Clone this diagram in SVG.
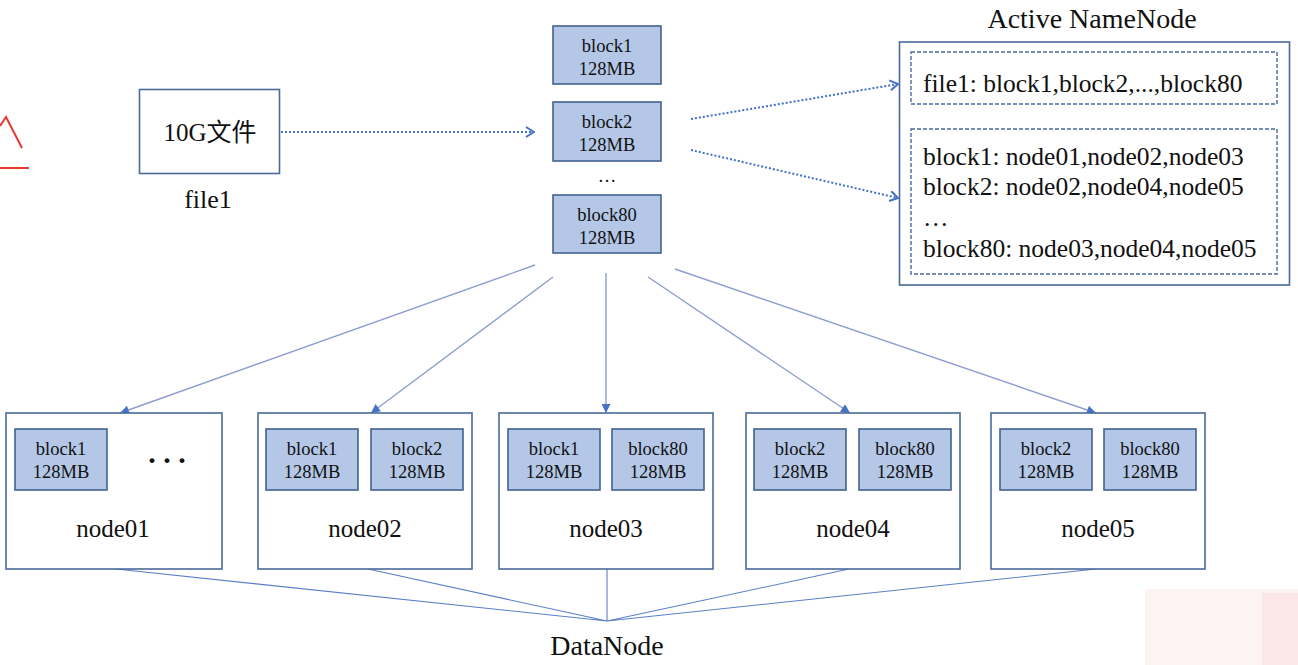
<svg xmlns="http://www.w3.org/2000/svg" width="1298" height="665" viewBox="0 0 1298 665">
<defs>
<style>
text{font-family:"Liberation Serif","Times New Roman",Times,"DejaVu Serif",serif;fill:#111;}
.cjk{font-family:"Liberation Serif","Times New Roman","Noto Sans CJK SC",serif;}
.box{fill:#fff;stroke:#4a6a9c;stroke-width:1.6;}
.blk{fill:#b4c7e7;stroke:#41638f;stroke-width:1.6;}
.dash{fill:none;stroke:#4a6a9c;stroke-width:1.4;stroke-dasharray:4 2;}
.bt{font-size:18.5px;text-anchor:middle;}
.lt{font-size:25.5px;}
.big{font-size:28px;text-anchor:middle;}
.lbl{font-size:25px;text-anchor:middle;}
.dot{fill:none;stroke:#4472c4;stroke-width:2;stroke-dasharray:2 2;}
.sol{fill:none;stroke:#8e9dd0;stroke-width:1.4;}
.bot{fill:none;stroke:#5b7fc8;stroke-width:1.1;}
</style>
<marker id="chev" viewBox="0 0 10 12" refX="9" refY="6" markerWidth="10" markerHeight="12" markerUnits="userSpaceOnUse" orient="auto">
<path d="M1,1 L9,6 L1,11" fill="none" stroke="#4472c4" stroke-width="2"/>
</marker>
<marker id="tri" viewBox="0 0 10 10" refX="10" refY="5" markerWidth="10" markerHeight="9" markerUnits="userSpaceOnUse" orient="auto">
<path d="M0,0 L10,5 L0,10 Z" fill="#4472c4"/>
</marker>
</defs>
<rect width="1298" height="665" fill="#fff"/>
<rect x="1145" y="589" width="153" height="76" fill="#fdf3f3"/>
<rect x="1262" y="593" width="36" height="72" fill="#fbe7e7"/>
<path d="M0,126 L6,117 L22,148" fill="none" stroke="#e53a2f" stroke-width="2"/>
<path d="M0,168 L29,168" fill="none" stroke="#e53a2f" stroke-width="2"/>

<g id="connectors">
<path class="dot" d="M281,132 L534,132" marker-end="url(#chev)"/>
<path class="dot" d="M691,119 L898,84" marker-end="url(#chev)"/>
<path class="dot" d="M691,150 L898,198" marker-end="url(#chev)"/>
<path class="sol" d="M535,265 L120,413" marker-end="url(#tri)"/>
<path class="sol" d="M553,277 L371,413" marker-end="url(#tri)"/>
<path class="sol" d="M606,273 L606,413" marker-end="url(#tri)"/>
<path class="sol" d="M648,277 L850,413" marker-end="url(#tri)"/>
<path class="sol" d="M675,269 L1096,413" marker-end="url(#tri)"/>
<path class="bot" d="M116,569 L607,621 M368,569 L607,621 M607,569 L607,621 M849,569 L607,621 M1096,569 L607,621"/>
</g>

<g id="file1">
<rect class="box" x="139.5" y="89.5" width="140" height="84"/>
<text class="lbl cjk" x="210" y="141">10G文件</text>
<text x="208" y="208" font-size="26" text-anchor="middle">file1</text>
</g>

<g id="block1">
<rect class="blk" x="553" y="26" width="108" height="58"/>
<text class="bt" x="607" y="52">block1</text>
<text class="bt" x="607" y="75">128MB</text>
</g>
<g id="block2">
<rect class="blk" x="553" y="102" width="108" height="59"/>
<text class="bt" x="607" y="128">block2</text>
<text class="bt" x="607" y="151">128MB</text>
</g>
<text class="bt" x="607" y="182">…</text>
<g id="block80">
<rect class="blk" x="553" y="195" width="108" height="58"/>
<text class="bt" x="607" y="221">block80</text>
<text class="bt" x="607" y="244">128MB</text>
</g>

<g id="namenode">
<text class="big" x="1092" y="28">Active NameNode</text>
<rect class="box" x="899.5" y="42" width="390" height="243"/>
<rect class="dash" x="911" y="52" width="366" height="52"/>
<text class="lt" x="923" y="92">file1: block1,block2,...,block80</text>
<rect class="dash" x="911" y="129" width="366" height="145"/>
<text class="lt" x="923" y="165">block1: node01,node02,node03</text>
<text class="lt" x="923" y="195">block2: node02,node04,node05</text>
<text class="lt" x="923" y="226">…</text>
<text class="lt" x="923" y="257">block80: node03,node04,node05</text>
</g>

<g id="node01">
<rect class="box" x="6" y="413" width="216" height="156"/>
<rect class="blk" x="15" y="429" width="92" height="61"/>
<text class="bt" x="61" y="455">block1</text>
<text class="bt" x="61" y="478">128MB</text>
<text x="167" y="463" font-size="30" font-weight="bold" text-anchor="middle">. . .</text>
<text class="lbl" x="113" y="537">node01</text>
</g>
<g id="node02">
<rect class="box" x="258" y="413" width="214" height="156"/>
<rect class="blk" x="266" y="429" width="92" height="61"/>
<text class="bt" x="312" y="455">block1</text>
<text class="bt" x="312" y="478">128MB</text>
<rect class="blk" x="371" y="429" width="92" height="61"/>
<text class="bt" x="417" y="455">block2</text>
<text class="bt" x="417" y="478">128MB</text>
<text class="lbl" x="365" y="537">node02</text>
</g>
<g id="node03">
<rect class="box" x="499" y="413" width="214" height="156"/>
<rect class="blk" x="508" y="429" width="92" height="61"/>
<text class="bt" x="554" y="455">block1</text>
<text class="bt" x="554" y="478">128MB</text>
<rect class="blk" x="612" y="429" width="92" height="61"/>
<text class="bt" x="658" y="455">block80</text>
<text class="bt" x="658" y="478">128MB</text>
<text class="lbl" x="606" y="537">node03</text>
</g>
<g id="node04">
<rect class="box" x="746" y="413" width="214" height="156"/>
<rect class="blk" x="754" y="429" width="92" height="61"/>
<text class="bt" x="800" y="455">block2</text>
<text class="bt" x="800" y="478">128MB</text>
<rect class="blk" x="859" y="429" width="92" height="61"/>
<text class="bt" x="905" y="455">block80</text>
<text class="bt" x="905" y="478">128MB</text>
<text class="lbl" x="853" y="537">node04</text>
</g>
<g id="node05">
<rect class="box" x="991" y="413" width="214" height="156"/>
<rect class="blk" x="1000" y="429" width="92" height="61"/>
<text class="bt" x="1046" y="455">block2</text>
<text class="bt" x="1046" y="478">128MB</text>
<rect class="blk" x="1104" y="429" width="92" height="61"/>
<text class="bt" x="1150" y="455">block80</text>
<text class="bt" x="1150" y="478">128MB</text>
<text class="lbl" x="1098" y="537">node05</text>
</g>
<g id="datanode">
<text class="big" x="607" y="655">DataNode</text>
</g>
</svg>
